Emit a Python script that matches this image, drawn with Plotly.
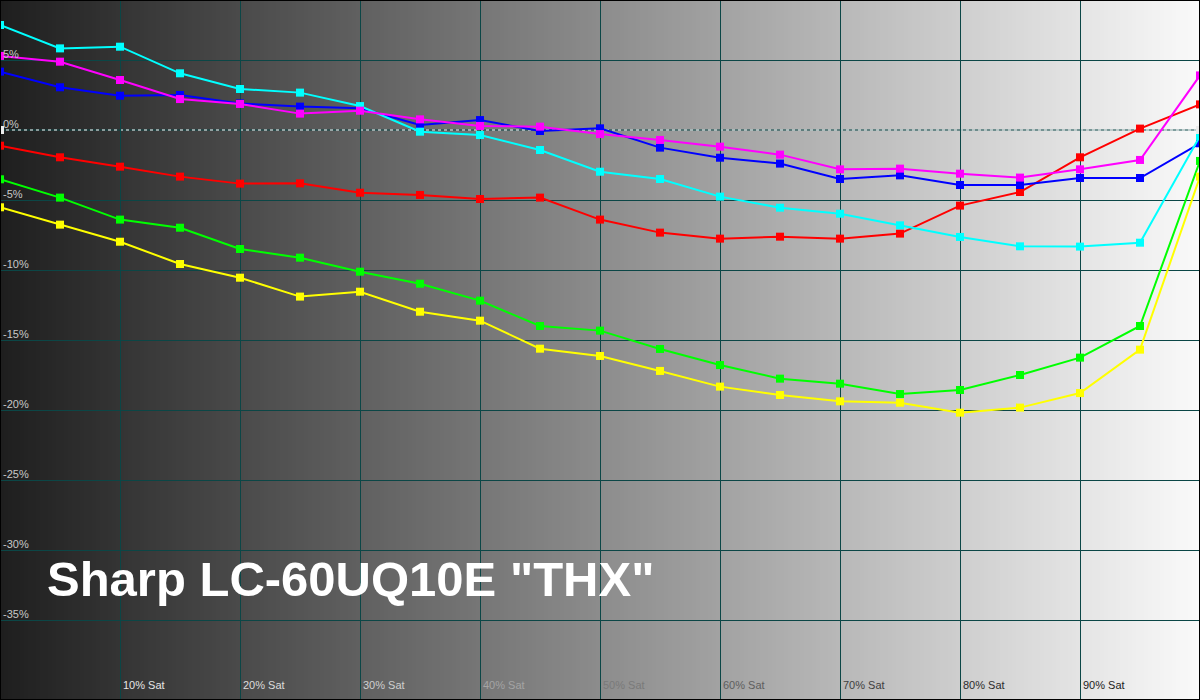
import plotly.graph_objects as go

# ---- data ----
sat = [0, 5, 10, 15, 20, 25, 30, 35, 40, 45, 50, 55, 60, 65, 70, 75, 80, 85, 90, 95, 100]
red = [-1.12, -1.95, -2.62, -3.33, -3.83, -3.81, -4.48, -4.64, -4.93, -4.83, -6.40,
       -7.33, -7.76, -7.62, -7.76, -7.40, -5.40, -4.43, -1.95, 0.10, 1.83]
green = [-3.52, -4.83, -6.40, -6.98, -8.50, -9.12, -10.12, -10.98, -12.19, -14.00, -14.33,
         -15.64, -16.79, -17.76, -18.12, -18.86, -18.57, -17.50, -16.26, -14.00, -2.21]
blue = [4.17, 3.05, 2.45, 2.50, 1.90, 1.67, 1.55, 0.36, 0.71, -0.07, 0.12,
        -1.26, -1.98, -2.40, -3.50, -3.24, -3.93, -3.93, -3.43, -3.43, -0.95]
cyan = [7.50, 5.83, 5.95, 4.05, 2.93, 2.67, 1.71, -0.12, -0.36, -1.43, -2.98,
        -3.50, -4.76, -5.55, -5.98, -6.81, -7.64, -8.31, -8.33, -8.05, -0.43]
magenta = [5.29, 4.88, 3.57, 2.21, 1.86, 1.17, 1.38, 0.76, 0.29, 0.24, -0.29,
           -0.71, -1.19, -1.76, -2.81, -2.76, -3.12, -3.40, -2.81, -2.14, 3.90]
yellow = [-5.52, -6.76, -7.98, -9.57, -10.55, -11.90, -11.55, -12.98, -13.62, -15.62, -16.14,
          -17.21, -18.33, -18.93, -19.38, -19.48, -20.19, -19.83, -18.79, -15.69, -3.33]
white_x = [0, 100]
white_y = [0, 0]

x_tick_vals = [10, 20, 30, 40, 50, 60, 70, 80, 90]
x_tick_text = ["10% Sat", "20% Sat", "30% Sat", "40% Sat", "50% Sat",
               "60% Sat", "70% Sat", "80% Sat", "90% Sat"]
y_tick_vals = [5, 0, -5, -10, -15, -20, -25, -30, -35]
y_tick_text = ["5%", "0%", "-5%", "-10%", "-15%", "-20%", "-25%", "-30%", "-35%"]
title_text = 'Sharp LC-60UQ10E "THX"'

# ---- style ----
W, H = 1200, 700
X_RANGE = [0, 100]
Y_RANGE = [-40.714, 9.286]
GRID = "#0b4646"
x_label_colors = ["#e6e6e6", "#dcdcdc", "#cfcfcf", "#a4a4a4", "#7a7a7a",
                  "#5e5e5e", "#404040", "#2c2c2c", "#1c1c1c"]

fig = go.Figure()

series = [
    ("red", red, "#ff0000"),
    ("green", green, "#00ff00"),
    ("blue", blue, "#0000ff"),
    ("cyan", cyan, "#00ffff"),
    ("magenta", magenta, "#ff00ff"),
    ("yellow", yellow, "#ffff00"),
]
for name, ys, col in series:
    fig.add_trace(go.Scatter(
        x=sat, y=ys, name=name, mode="lines+markers",
        line=dict(color=col, width=2),
        marker=dict(symbol="square", size=8, color=col, line=dict(width=0)),
        hoverinfo="skip", showlegend=False,
    ))

fig.add_trace(go.Scatter(
    x=white_x, y=white_y, mode="markers",
    marker=dict(symbol="square", size=8, color="#ececec", line=dict(width=0)),
    hoverinfo="skip", showlegend=False,
))

shapes = []
# background gradient (dark left -> light right)
n = 300
c0, c1 = 30, 250
for i in range(n):
    g = round(c0 + (c1 - c0) * (i + 0.5) / n)
    shapes.append(dict(
        type="rect", xref="paper", yref="paper",
        x0=i / n, x1=(i + 1) / n + 0.0005, y0=0, y1=1,
        fillcolor=f"rgb({g},{g},{g})", line=dict(width=0), layer="below",
    ))
# zero reference line: teal base with white dashes
shapes.append(dict(type="line", xref="paper", yref="y", x0=0, x1=1, y0=0, y1=0,
                   line=dict(color=GRID, width=1), layer="between"))
shapes.append(dict(type="line", xref="paper", yref="y", x0=0, x1=1, y0=0, y1=0,
                   line=dict(color="#ffffff", width=1, dash="3px,3px"), layer="between"))
# outer black frame
shapes.append(dict(type="rect", xref="paper", yref="paper", x0=0, x1=1, y0=0, y1=1,
                   line=dict(color="#000000", width=2), layer="above"))

annotations = []
for v, t in zip(y_tick_vals, y_tick_text):
    annotations.append(dict(
        x=0, xref="paper", y=v, yref="y", text=t, showarrow=False,
        xanchor="left", yanchor="bottom", xshift=1, yshift=-2,
        font=dict(family="Liberation Sans, Arial, sans-serif", size=11, color="#c8c8c8"),
    ))
for v, t, c in zip(x_tick_vals, x_tick_text, x_label_colors):
    annotations.append(dict(
        x=v, xref="x", y=1 - 685 / H, yref="paper", text=t, showarrow=False,
        xanchor="left", yanchor="middle", xshift=1,
        font=dict(family="Liberation Sans, Arial, sans-serif", size=11, color=c),
    ))
annotations.append(dict(
    x=45 / W, xref="paper", y=1 - 579 / H, yref="paper", text="<b>" + title_text + "</b>",
    showarrow=False, xanchor="left", yanchor="middle",
    font=dict(family="Liberation Sans, Arial, sans-serif", size=49, color="#ffffff"),
))

fig.update_layout(
    width=W, height=H,
    margin=dict(l=0, r=0, t=0, b=0),
    paper_bgcolor="#000000",
    plot_bgcolor="rgba(0,0,0,0)",
    showlegend=False,
    shapes=shapes,
    annotations=annotations,
    xaxis=dict(range=X_RANGE, tickvals=x_tick_vals, showticklabels=False,
               showgrid=True, gridcolor=GRID, gridwidth=1, zeroline=False,
               showline=False, fixedrange=True),
    yaxis=dict(range=Y_RANGE, tickvals=[v for v in y_tick_vals if v != 0],
               showticklabels=False, showgrid=True, gridcolor=GRID, gridwidth=1,
               zeroline=False, showline=False, fixedrange=True),
)

fig.write_html(
    "out.html",
    config={"displayModeBar": False},
    post_script="document.body.style.margin='0';document.body.style.overflow='hidden';",
)
